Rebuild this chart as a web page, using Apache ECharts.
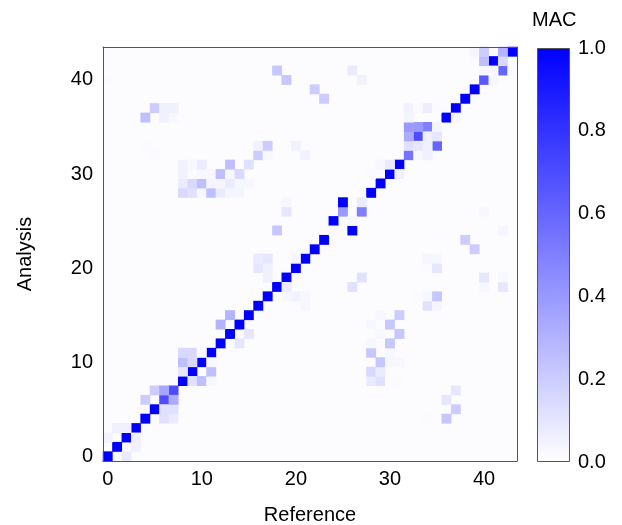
<!DOCTYPE html>
<html>
<head>
<meta charset="utf-8">
<script src="https://cdn.jsdelivr.net/npm/echarts@6/dist/echarts.min.js"></script>
<style>
  html, body { margin: 0; padding: 0; background: #fff; }
  #mac_graph { width: 622px; height: 525px; }
</style>
</head>
<body>
<div id="mac_graph"></div>
<script>
// mode indices 0..43 for both axes
var modes = [];
for (var i = 0; i < 44; i++) modes.push(String(i));

var tickLabels = ["0", "10", "20", "30", "40"];
var barTicks = ["0.0", "0.2", "0.4", "0.6", "0.8", "1.0"];

// [reference, analysis, MAC] - matched pairs
var pairedMac = [
  [0, 0, 1], [1, 1, 1], [2, 2, 1], [3, 3, 1], [4, 4, 1], [5, 5, 1],
  [6, 6, 0.7], [7, 7, 0.7], [8, 8, 1], [9, 9, 1], [10, 10, 1], [11, 11, 1],
  [12, 12, 1], [13, 13, 1], [14, 14, 1], [15, 15, 1], [16, 16, 1], [17, 17, 1],
  [18, 18, 1], [19, 19, 1], [20, 20, 1], [21, 21, 1], [22, 22, 1], [23, 23, 1],
  [26, 24, 1], [24, 25, 1], [25, 26, 0.4], [27, 26, 0.5], [25, 27, 1],
  [28, 28, 1], [29, 29, 1], [30, 30, 1], [31, 31, 1],
  [32, 32, 0.55], [35, 33, 0.6], [33, 34, 0.7], [34, 35, 0.5],
  [36, 36, 1], [37, 37, 1], [38, 38, 1], [39, 39, 1],
  [40, 40, 0.65], [42, 41, 0.6], [41, 42, 1], [43, 43, 1]
];

// cross terms close to the diagonal
var nearMac = [
  [2, 0, 0.08], [3, 1, 0.06], [0, 2, 0.05], [3, 2, 0.06], [1, 3, 0.06], [2, 3, 0.06],
  [6, 4, 0.12], [7, 4, 0.08], [6, 5, 0.12], [7, 5, 0.12],
  [4, 6, 0.2], [7, 6, 0.33], [5, 7, 0.2], [6, 7, 0.35],
  [9, 8, 0.12], [10, 8, 0.25], [11, 8, 0.03], [8, 9, 0.1], [11, 9, 0.25],
  [8, 10, 0.25], [9, 10, 0.15], [11, 10, 0.03], [8, 11, 0.15], [9, 11, 0.15], [10, 11, 0.02],
  [14, 12, 0.1], [15, 13, 0.1], [12, 14, 0.3], [13, 15, 0.3],
  [21, 16, 0.03], [20, 17, 0.05], [21, 17, 0.03], [19, 17, 0.03], [19, 18, 0.08], [17, 19, 0.06],
  [16, 20, 0.1], [17, 20, 0.06], [16, 21, 0.08], [17, 21, 0.1], [20, 21, 0.04],
  [24, 24, 0.02], [26, 25, 0.03], [27, 27, 0.08],
  [28, 30, 0.02], [31, 30, 0.06], [29, 31, 0.03], [30, 31, 0.08],
  [33, 32, 0.03], [34, 32, 0.06], [32, 33, 0.12], [33, 33, 0.1], [34, 33, 0.06],
  [32, 34, 0.33], [34, 34, 0.06], [35, 34, 0.1],
  [32, 35, 0.4], [33, 35, 0.4], [35, 35, 0.04],
  [32, 36, 0.04], [37, 36, 0.03],
  [32, 37, 0.05], [33, 37, 0.02], [34, 37, 0.07], [35, 37, 0.02],
  [41, 40, 0.03], [40, 41, 0.03], [41, 41, 0.03], [43, 41, 0.02],
  [39, 42, 0.02], [40, 42, 0.25], [42, 42, 0.15],
  [39, 43, 0.04], [40, 43, 0.2], [42, 43, 0.3]
];

// cross terms far from the diagonal
var farMac = [
  [34, 4, 0.02], [36, 4, 0.22], [37, 5, 0.2], [36, 6, 0.1], [37, 7, 0.1],
  [28, 8, 0.08], [29, 8, 0.12], [30, 8, 0.02], [31, 8, 0.02],
  [28, 9, 0.15], [29, 9, 0.08],
  [29, 10, 0.22], [30, 10, 0.03], [31, 10, 0.03],
  [28, 11, 0.22], [30, 11, 0.03],
  [28, 12, 0.03], [30, 12, 0.22],
  [29, 13, 0.03], [31, 13, 0.22],
  [28, 14, 0.03], [30, 14, 0.22],
  [29, 15, 0.03], [31, 15, 0.2],
  [34, 16, 0.12], [35, 16, 0.04], [33, 17, 0.02], [34, 17, 0.03], [35, 17, 0.22],
  [26, 18, 0.12], [40, 18, 0.03], [42, 18, 0.1],
  [27, 19, 0.12], [40, 19, 0.1], [42, 19, 0.03],
  [34, 20, 0.02], [35, 20, 0.1], [34, 21, 0.04], [35, 21, 0.03],
  [39, 22, 0.2], [38, 23, 0.2],
  [18, 24, 0.22], [42, 24, 0.04], [19, 26, 0.1], [40, 26, 0.03], [19, 27, 0.03],
  [8, 28, 0.15], [9, 28, 0.12], [10, 28, 0.03], [11, 28, 0.25], [12, 28, 0.08], [13, 28, 0.04], [14, 28, 0.04],
  [8, 29, 0.08], [9, 29, 0.15], [10, 29, 0.25], [11, 29, 0.04], [12, 29, 0.04], [13, 29, 0.08], [14, 29, 0.03], [15, 29, 0.03],
  [8, 30, 0.05], [9, 30, 0.02], [10, 30, 0.03], [11, 30, 0.03], [12, 30, 0.25], [13, 30, 0.03], [14, 30, 0.15],
  [8, 31, 0.05], [9, 31, 0.03], [10, 31, 0.08], [13, 31, 0.25], [15, 31, 0.12],
  [5, 32, 0.02], [16, 32, 0.2], [17, 32, 0.03], [21, 32, 0.05],
  [4, 33, 0.02], [16, 33, 0.05], [17, 33, 0.2], [20, 33, 0.05],
  [4, 36, 0.25], [6, 36, 0.06], [7, 36, 0.03],
  [5, 37, 0.2], [6, 37, 0.06], [7, 37, 0.06],
  [23, 38, 0.2], [22, 39, 0.2],
  [0, 40, 0.02], [19, 40, 0.22], [27, 40, 0.05],
  [18, 41, 0.22], [26, 41, 0.08]
];

var font = "Liberation Sans";
var frame = "#555555";
var showTen = function (idx) { return idx % 10 === 0; };

var myChart = echarts.init(document.getElementById("mac_graph"));
myChart.setOption({
  animation: false,
  textStyle: { fontFamily: font },
  graphic: [
    {
      type: "text",
      left: 532,
      top: 10,
      style: { text: "MAC", font: "20px " + font, fill: "#000" }
    }
  ],
  grid: [
    { left: 103, top: 47, width: 414, height: 414, show: true, backgroundColor: "#fcfcfe", borderWidth: 0, outerBoundsMode: "none", containLabel: false },
    { left: 537, top: 48, width: 33, height: 414, outerBoundsMode: "none", containLabel: false }
  ],
  visualMap: {
    show: false,
    seriesIndex: 0,
    min: 0,
    max: 1,
    inRange: { color: ["#ffffff", "#0000ff"] }
  },
  xAxis: [
    {
      type: "category",
      gridIndex: 0,
      z: 5,
      data: modes,
      name: "Reference",
      nameLocation: "middle",
      nameGap: 44,
      nameTextStyle: { fontSize: 20, color: "#000", fontFamily: font },
      axisLine: { lineStyle: { color: frame } },
      axisTick: { inside: true, alignWithLabel: true, interval: showTen, length: 5, lineStyle: { color: "#aaa" } },
      axisLabel: {
        interval: showTen, fontSize: 20, color: "#000", margin: 8,
        formatter: function (v) { return tickLabels[Number(v) / 10]; }
      },
      splitLine: { show: false }
    },
    {
      type: "category",
      gridIndex: 0,
      z: 5,
      position: "top",
      data: modes,
      axisLine: { lineStyle: { color: frame } },
      axisTick: { inside: true, alignWithLabel: true, interval: showTen, length: 5, lineStyle: { color: "#aaa" } },
      axisLabel: { show: false }
    },
    {
      type: "category",
      gridIndex: 1,
      data: ["bar"],
      show: false
    }
  ],
  yAxis: [
    {
      type: "category",
      gridIndex: 0,
      z: 5,
      data: modes,
      name: "Analysis",
      nameLocation: "middle",
      nameGap: 68,
      nameTextStyle: { fontSize: 20, color: "#000", fontFamily: font },
      axisLine: { lineStyle: { color: frame } },
      axisTick: { inside: true, alignWithLabel: true, interval: showTen, length: 5, lineStyle: { color: "#aaa" } },
      axisLabel: {
        interval: showTen, fontSize: 20, color: "#000", margin: 10,
        formatter: function (v) { return tickLabels[Number(v) / 10]; }
      },
      splitLine: { show: false }
    },
    {
      type: "category",
      gridIndex: 0,
      z: 5,
      position: "right",
      data: modes,
      axisLine: { lineStyle: { color: frame } },
      axisTick: { inside: true, alignWithLabel: true, interval: showTen, length: 5, lineStyle: { color: "#aaa" } },
      axisLabel: { show: false }
    },
    {
      type: "value",
      gridIndex: 1,
      position: "right",
      min: 0,
      max: 1,
      interval: 0.2,
      axisLine: { show: false },
      axisTick: { show: false },
      splitLine: { show: false },
      axisLabel: {
        fontSize: 20, color: "#000", margin: 8,
        formatter: function (v) { return barTicks[Math.round(v * 5)]; }
      }
    }
  ],
  series: [
    {
      name: "MAC",
      type: "heatmap",
      xAxisIndex: 0,
      yAxisIndex: 0,
      z: 1,
      data: pairedMac.concat(nearMac, farMac),
      itemStyle: { borderWidth: 0 },
      emphasis: { disabled: true }
    },
    {
      name: "colorbar",
      type: "bar",
      xAxisIndex: 2,
      yAxisIndex: 2,
      data: [1],
      barWidth: "100%",
      itemStyle: {
        color: new echarts.graphic.LinearGradient(0, 0, 0, 1, [
          { offset: 0, color: "#0000ff" },
          { offset: 1, color: "#ffffff" }
        ]),
        borderColor: frame,
        borderWidth: 1
      },
      silent: true
    }
  ]
});
</script>
</body>
</html>
